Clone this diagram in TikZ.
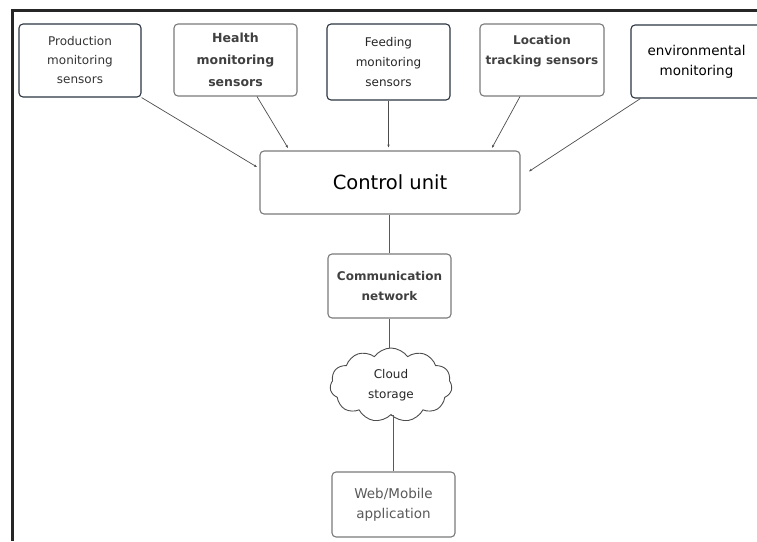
\documentclass[tikz,border=0pt]{standalone}
\usepackage{fontspec}
\setmainfont{DejaVu Sans}
\usetikzlibrary{shapes.symbols,arrows.meta}
\definecolor{darkedge}{HTML}{2B3440}
\definecolor{greyedge}{HTML}{7A7A7A}
\newcommand{\dcol}{darkedge}
\newcommand{\gcol}{greyedge}

\begin{document}
\begin{tikzpicture}[x=1pt, y=-1pt,
    box/.style={draw, rounded corners=4pt, align=center, inner sep=0pt, line width=1.1pt},
    link/.style={draw=black!70, line width=0.7pt, -{Stealth[length=3pt,width=2.4pt]}, shorten >=3pt},
    wire/.style={draw=black!65, line width=0.9pt}]

    \useasboundingbox (0, 0) rectangle (757, 541);

    % frame
    \draw[line width=3pt, draw=black!85] (12, 541) -- (12, 10) -- (757, 10);

    % sensors
    \node[box, draw=\dcol, text=black!80, minimum width=122, minimum height=73,
          font=\fontsize{12}{19}\selectfont] (prod) at (80, 60.5) {Production\\monitoring\\sensors};
    \node[box, draw=\gcol, text=black!75, minimum width=123, minimum height=72,
          font=\fontsize{12.5}{22}\selectfont\bfseries] (health) at (235.5, 60) {Health\\monitoring\\sensors};
    \node[box, draw=\dcol, text=black!85, minimum width=123, minimum height=76,
          font=\fontsize{12}{20}\selectfont] (feed) at (388.5, 62) {Feeding\\monitoring\\sensors};
    \node[box, draw=\gcol, text=black!75, minimum width=124, minimum height=72,
          font=\fontsize{12}{20}\selectfont\bfseries] (loc) at (542, 60) {Location\\tracking sensors\\~};
    \node[box, draw=\dcol, text=black, minimum width=131, minimum height=73,
          font=\fontsize{13.5}{20}\selectfont] (env) at (696.5, 61.5) {environmental\\monitoring};

    % control unit and below
    \node[box, draw=\gcol, text=black, minimum width=260, minimum height=63,
          font=\fontsize{19.5}{24}\selectfont] (cu) at (390, 182.5) {Control unit};
    \node[box, draw=\gcol, text=black!75, minimum width=123, minimum height=64,
          font=\fontsize{12}{20}\selectfont\bfseries] (comm) at (389.5, 286) {Communication\\network};
    \node[cloud, draw=black!70, line width=0.9pt, cloud puffs=11, cloud puff arc=110, aspect=1.7,
          minimum width=122, minimum height=74, inner sep=0pt, align=center, text=black!85,
          font=\fontsize{12}{20}\selectfont] (cloud) at (391, 385) {Cloud\\storage};
    \node[box, draw=\gcol, text=black!65, minimum width=123, minimum height=65,
          font=\fontsize{13.5}{20}\selectfont] (app) at (393.5, 504.5) {Web/Mobile\\application};

    \draw[link] (prod.south east) -- ([yshift=14pt]cu.west);
    \draw[link] ([xshift=21.5pt]health.south) -- ([xshift=30pt]cu.north west);
    \draw[link] (feed.south) -- (feed.south |- cu.north);
    \draw[link] ([xshift=-22pt]loc.south) -- ([xshift=-30pt]cu.north east);
    \draw[link] ([xshift=10pt]env.south west) -- ([yshift=9.5pt, xshift=6pt]cu.east);

    \draw[wire] (cu.south -| comm.north) -- (comm.north);
    \draw[wire] (comm.south) -- (comm.south |- cloud.north);
    \draw[wire] (cloud.south) -- (cloud.south -| app.north) -- (app.north);

\end{tikzpicture}
\end{document}
